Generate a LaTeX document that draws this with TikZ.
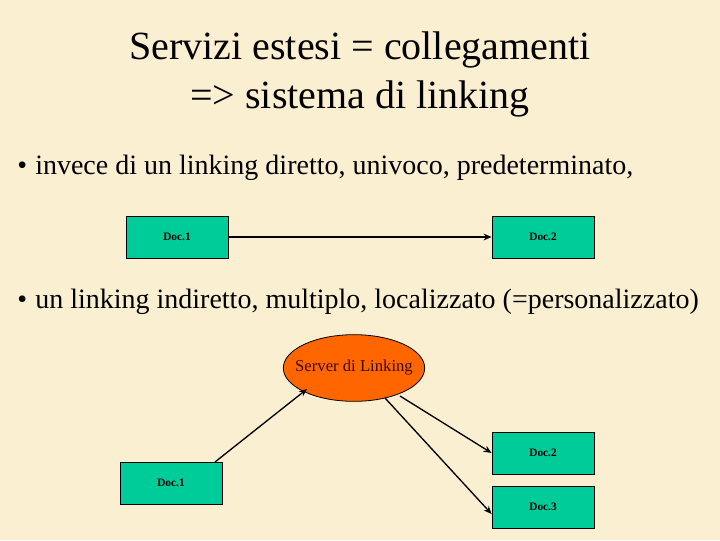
\documentclass[tikz,border=0pt]{standalone}
\usepackage{fontspec}
\setmainfont{Liberation Serif}
\usetikzlibrary{shapes.geometric,arrows.meta}
\definecolor{bg}{RGB}{251,239,210}
\definecolor{docfill}{RGB}{0,204,153}
\definecolor{orangefill}{RGB}{255,102,0}
\definecolor{srvtext}{RGB}{60,10,0}
\tikzset{
  docbox/.style={draw=black, line width=0.6pt, fill=docfill, minimum width=76.5pt, minimum height=31.5pt, inner sep=0pt, font=\fontsize{8.5}{10}\selectfont\bfseries},
  link/.style={draw=black, line width=1pt, -{Stealth[length=6pt,width=5pt]}},
  titletext/.style={font=\fontsize{30}{33}\selectfont, anchor=base},
  bullettext/.style={font=\fontsize{21}{24}\selectfont, anchor=base west, inner sep=0pt},
  server/.style={ellipse, draw=black, line width=0.6pt, fill=orangefill, minimum width=106pt, minimum height=50pt, inner xsep=-7pt, inner ysep=0pt, font=\fontsize{12.5}{14}\selectfont, text=srvtext},
}
\begin{document}
\begin{tikzpicture}[x=0.75pt,y=-0.75pt]
\useasboundingbox (0,0) rectangle (720,540);
\fill[bg] (0,0) rectangle (720,540);
\node[titletext] (t1) at (360,59) {Servizi estesi = collegamenti};
\node[titletext] (t2) at (360,108) {=> sistema di linking};
\node[bullettext] (m1) at (17,174) {\textbullet};
\node[bullettext] (b1) at (35,174) {invece di un linking diretto, univoco, predeterminato,};
\node[docbox] (a1) at (177,237) {Doc.1};
\node[docbox] (a2) at (543,237) {Doc.2};
\draw[link] (a1.east) -- (a2.west);
\node[bullettext] (m2) at (17,308) {\textbullet};
\node[bullettext] (b2) at (35,308) {un linking indiretto, multiplo, localizzato (=personalizzato)};
\node[server] (srv) at (354,368) {Server di Linking};
\node[docbox] (c1) at (171,483) {Doc.1};
\node[docbox] (c2) at (543,453) {Doc.2};
\node[docbox] (c3) at (543,507) {Doc.3};
\coordinate (s1) at (307,389);
\coordinate (s2) at (400,396);
\coordinate (s3) at (385,398);
\coordinate (d1) at (215,462);
\draw[link] (d1) -- (s1);
\draw[link] (s2) -- (c2.west);
\draw[link] (s3) -- ([yshift=-5.25pt]c3.west);
\end{tikzpicture}
\end{document}
